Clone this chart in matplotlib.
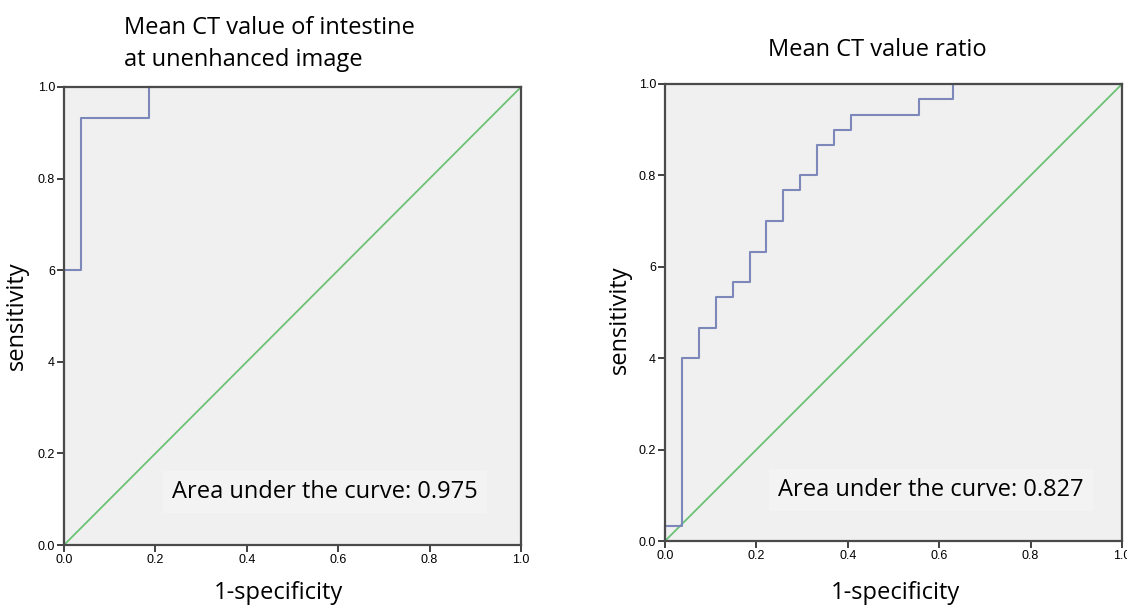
"""
两幅 ROC 曲线: 左 肠壁平扫 CT 均值, 右 CT 值比值。
"""

import matplotlib
matplotlib.use("Agg")
import matplotlib.pyplot as plt

W, H = 1127, 606

# ---- 数据: ROC 曲线顶点 (1-specificity, sensitivity) ----
left_fpr = [0.0, 0.0, 0.037, 0.037, 0.185, 0.185, 1.0]
left_tpr = [0.0, 0.600, 0.600, 0.933, 0.933, 1.0, 1.0]

right_fpr = [0.0, 0.0, 0.037, 0.037, 0.074, 0.074, 0.111, 0.111, 0.148, 0.148,
             0.185, 0.185, 0.222, 0.222, 0.259, 0.259, 0.296, 0.296, 0.333, 0.333,
             0.370, 0.370, 0.407, 0.407, 0.556, 0.556, 0.630, 0.630, 1.0]
right_tpr = [0.0, 0.033, 0.033, 0.400, 0.400, 0.467, 0.467, 0.533, 0.533, 0.567,
             0.567, 0.633, 0.633, 0.700, 0.700, 0.767, 0.767, 0.800, 0.800, 0.867,
             0.867, 0.900, 0.900, 0.933, 0.933, 0.967, 0.967, 1.0, 1.0]

auc_left = 0.975
auc_right = 0.827

tick_vals = [0.0, 0.2, 0.4, 0.6, 0.8, 1.0]
x_tick_labels = ["0.0", "0.2", "0.4", "0.6", "0.8", "1.0"]
y_tick_labels = ["0.0", "0.2", "4", "6", "0.8", "1.0"]   # 原图中纵轴标签即如此

TXT_FONT = ["Open Sans", "DejaVu Sans"]
TICK_FONT = ["Liberation Sans", "DejaVu Sans"]
FS = 17


def px_box(x0, y0, x1, y1):
    # 像素框 -> figure 坐标
    return [x0 / W, 1 - y1 / H, (x1 - x0) / W, (y1 - y0) / H]


def draw_roc(ax, fpr, tpr):
    ax.set_facecolor("#f0f0f0")
    ax.plot([0, 1], [0, 1], color="#6cc274", linewidth=1.3, zorder=2)
    ax.plot(fpr, tpr, color="#7d88ba", linewidth=1.5, zorder=2.2, clip_on=False)
    ax.set_xlim(0, 1)
    ax.set_ylim(0, 1)
    ax.set_xticks(tick_vals)
    ax.set_xticklabels(x_tick_labels)
    ax.set_yticks(tick_vals)
    ax.set_yticklabels(y_tick_labels)
    for s in ax.spines.values():
        s.set_color("#4a4a4a")
        s.set_linewidth(1.6)
    ax.tick_params(direction="out", length=5, width=1.3, color="#333333",
                   labelsize=9, pad=1.5)
    for lab in ax.get_xticklabels() + ax.get_yticklabels():
        lab.set_family(TICK_FONT)


fig = plt.figure(figsize=(W / 100, H / 100), dpi=100)
fig.patch.set_facecolor("white")

ax1 = fig.add_axes(px_box(64, 87, 521, 545))
ax2 = fig.add_axes(px_box(665, 84, 1122, 541))
draw_roc(ax1, left_fpr, left_tpr)
draw_roc(ax2, right_fpr, right_tpr)

# ---- 标题 / 轴标题 / AUC 标注 ----
def ftext(x, y, s, **kw):
    fig.text(x / W, 1 - y / H, s, family=TXT_FONT, **kw)

ftext(124, 44, "Mean CT value of intestine\nat unenhanced image",
      ha="left", va="center", fontsize=FS, linespacing=1.4)
ftext(877, 50, "Mean CT value ratio", ha="center", va="center", fontsize=FS)

ftext(17, 316, "sensitivity", ha="center", va="center", rotation=90, fontsize=FS)
ftext(620, 320, "sensitivity", ha="center", va="center", rotation=90, fontsize=FS)
ftext(278, 593, "1-specificity", ha="center", va="center", fontsize=FS)
ftext(895, 593, "1-specificity", ha="center", va="center", fontsize=FS)

box = dict(boxstyle="square,pad=0.4", facecolor="#f3f3f3", edgecolor="none")
ftext(325, 492, f"Area under the curve: {auc_left:.3f}",
      ha="center", va="center", fontsize=FS, bbox=box)
ftext(931, 490, f"Area under the curve: {auc_right:.3f}",
      ha="center", va="center", fontsize=FS, bbox=box)

fig.savefig("out.png", dpi=100)
plt.close(fig)
